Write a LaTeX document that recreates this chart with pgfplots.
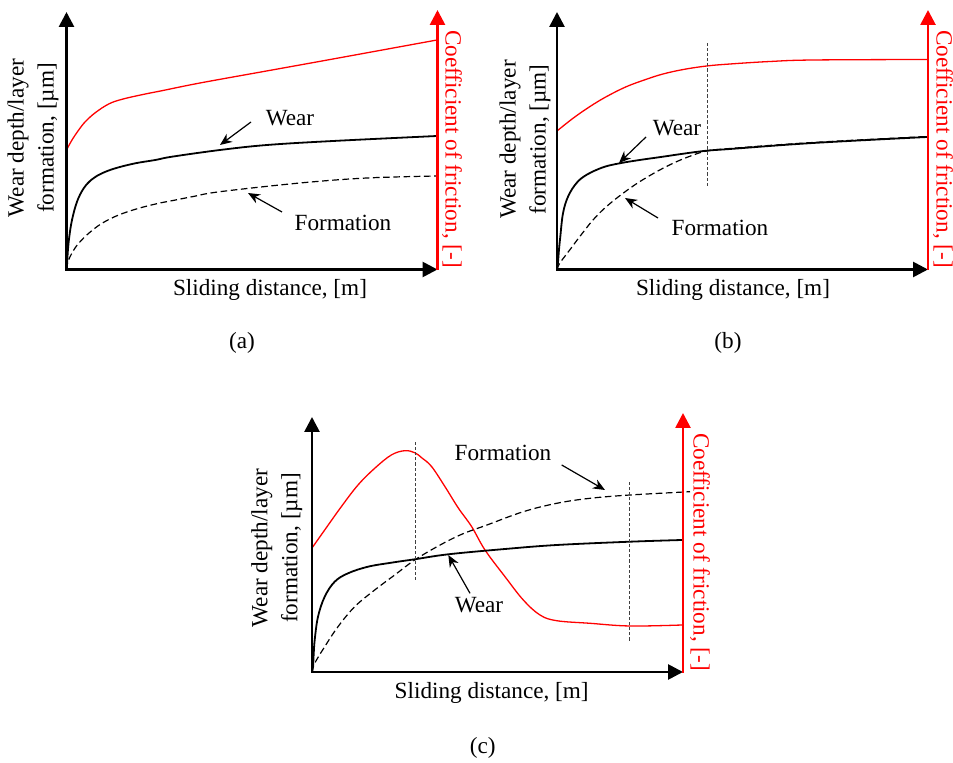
\documentclass[border=0pt]{standalone}
\usepackage{fontspec}
\setmainfont{Liberation Serif}
\usepackage{pgfplots}
\pgfplotsset{compat=1.18}
\usetikzlibrary{arrows.meta}
\pgfplotsset{
  panel/.style={hide axis, scale only axis, clip=false, xmin=0, xmax=371, ymin=0, ymax=259.5,
    width=185.5pt, height=129.75pt, anchor=south west},
  wear/.style={black, line width=0.9pt, smooth, tension=0.6, no marks},
  form/.style={black, line width=0.6pt, dash pattern=on 3.3pt off 1.8pt, smooth, tension=0.6, no marks},
  cof/.style={red, line width=0.65pt, smooth, tension=0.6, no marks},
  vline/.style={black!75, line width=0.5pt, dash pattern=on 1.6pt off 1pt, no marks},
}
\tikzset{
  ann/.style={line width=0.6pt, -{Stealth[length=6pt,width=5pt]}},
  bax/.style={line width=1.35pt, {Triangle[length=7.5pt,width=7.5pt]}-{Triangle[length=7.5pt,width=7.5pt]}},
  rax/.style={red, line width=1.35pt, -{Triangle[length=7.5pt,width=7.5pt]}},
}
\begin{document}
\fontsize{11.6}{15}\selectfont%
\begin{tikzpicture}
\path[use as bounding box] (0,0) rectangle (476.5pt,-381.5pt);
% ---------------- (a)
\begin{axis}[panel, at={(33.25pt,-134.75pt)}]
\addplot[cof] coordinates {(0,119.5) (5.5,129.5) (12.2,139.5) (18.8,147.8) (28.8,156.8) (42.2,165.5) (55.5,170.2) (75.5,174.8) (95.5,178.8) (133.5,186.5) (200,198.5) (266.5,210.5) (370.5,229.5)};
\addplot[wear] coordinates {(0,0) (0.5,4.5) (1.4,19) (2.8,32.8) (5.5,49.5) (10.5,67.8) (17.2,81.2) (25.5,90.2) (35.5,96.2) (48.8,101.2) (68.8,106.2) (88.8,109.5) (105.5,112.8) (153.5,119.5) (200.5,124.5) (266.5,128.5) (370.5,133.5)};
\addplot[form] coordinates {(0,0) (1.5,7.8) (6,17.5) (12.2,26.2) (22.2,36.2) (35.5,46.2) (52.2,54.5) (72.2,61.2) (92.2,66.2) (105.5,68.8) (126.8,73) (153.5,77.8) (233.5,86.5) (300.5,91.5) (370.5,93.5)};
\draw[bax] (axis cs:0,257.5) -- (axis cs:0,0) -- (axis cs:371,0);
\draw[rax] (axis cs:371,-0.7) -- (axis cs:371,259.5);
\draw[ann] (axis cs:184.5,147.5) -- (axis cs:153.5,124.5);
\draw[ann] (axis cs:215.5,57.5) -- (axis cs:181.5,76.5);
\node at (axis cs:223.5,151.5) {Wear};
\node at (axis cs:276.5,46.5) {Formation};
\node at (axis cs:203.5,-20.5) {Sliding distance, [m]};
\node[rotate=90, align=center] at (axis cs:-33.5,131.5) {Wear depth/layer\\formation, [µm]};
\node[rotate=-90, red] at (axis cs:385.5,120.5) {Coefficient of friction, [-]};
\node at (axis cs:175.5,-73.5) {(a)};
\end{axis}
% ---------------- (b)
\begin{axis}[panel, at={(278.5pt,-134.75pt)}]
\addplot[cof] coordinates {(0,138.5) (16,151.2) (32.7,162.8) (49.3,172.8) (69.3,182.8) (89.3,190.2) (106,195.5) (126.3,200) (149.7,203.5) (173,205.5) (213,208) (256,209.5) (371,210)};
\addplot[wear] coordinates {(0,0) (0.9,6.2) (2,20) (3.3,32.8) (6,56.2) (11,72.8) (19.3,86.2) (29.3,94.5) (46,102.2) (62.7,106.2) (82.7,109.5) (106,112.8) (126.3,115.8) (149.7,118.8) (173,120.5) (256,126.5) (370,132.5)};
\addplot[form] coordinates {(0,0) (2.7,6.2) (12.7,19.5) (22.7,32.8) (36,49.5) (49.3,62.8) (66,76.2) (82.7,87.8) (102.7,99.5) (120,108) (135,114) (149.7,118.5) (173,121) (256,127) (370,133)};
\addplot[vline] coordinates {(150,83.5) (150,226.5)};
\draw[bax] (axis cs:0,257.5) -- (axis cs:0,0) -- (axis cs:371,0);
\draw[rax] (axis cs:371,-0.7) -- (axis cs:371,259.5);
\draw[ann] (axis cs:89,132.5) -- (axis cs:62,106.5);
\draw[ann] (axis cs:101,51.5) -- (axis cs:68,71.5);
\node at (axis cs:120,141.5) {Wear};
\node at (axis cs:163,41.5) {Formation};
\node at (axis cs:176,-20.5) {Sliding distance, [m]};
\node[rotate=90, align=center] at (axis cs:-32,130) {Wear depth/layer\\formation, [µm]};
\node[rotate=-90, red] at (axis cs:386,120.5) {Coefficient of friction, [-]};
\node at (axis cs:171,-73.5) {(b)};
\end{axis}
% ---------------- (c)
\begin{axis}[panel, at={(156pt,-336pt)}]
\addplot[cof] coordinates {(0,124) (12.7,142) (29.3,165.3) (46,187) (62.7,203.7) (79.3,217) (92.7,221.3) (102.7,219.3) (110,214) (119.7,205.3) (133,185.3) (146.3,164) (159.7,145.3) (173,122) (193,95.3) (211.3,72) (228,57) (244.7,51.3) (278,48.7) (318,46) (370,47)};
\addplot[wear] coordinates {(0,0) (1,5.3) (1.7,18) (2.7,32) (6,55.3) (12.7,75.3) (22.7,90.3) (36,98.7) (56,105.3) (79.3,109.3) (102.7,112.7) (136.3,117.7) (193,123) (244.7,127) (318,130.3) (370,132)};
\addplot[form] coordinates {(0,0) (2.7,8.7) (12.7,25.3) (26,45.3) (42.7,65.3) (62.7,82) (82.7,97) (102.7,112) (126.3,126) (149.7,137.7) (175,147) (211.3,160.3) (244.7,168.7) (278,173.7) (318,177) (378,180.3)};
\addplot[vline] coordinates {(103,92) (103,232)};
\addplot[vline] coordinates {(317.3,31.3) (317.3,190.3)};
\draw[bax] (axis cs:0,255) -- (axis cs:0,0) -- (axis cs:371,0);
\draw[rax] (axis cs:371,-0.7) -- (axis cs:371,259);
\draw[ann] (axis cs:249.7,207) -- (axis cs:293,182);
\draw[ann] (axis cs:158,78.7) -- (axis cs:136.3,117);
\node at (axis cs:191,219) {Formation};
\node at (axis cs:167,67) {Wear};
\node at (axis cs:179.7,-21.3) {Sliding distance, [m]};
\node[rotate=90, align=center] at (axis cs:-35.3,124) {Wear depth/layer\\formation, [µm]};
\node[rotate=-90, red] at (axis cs:388,120) {Coefficient of friction, [-]};
\node at (axis cs:170.7,-76) {(c)};
\end{axis}
\end{tikzpicture}
\end{document}
